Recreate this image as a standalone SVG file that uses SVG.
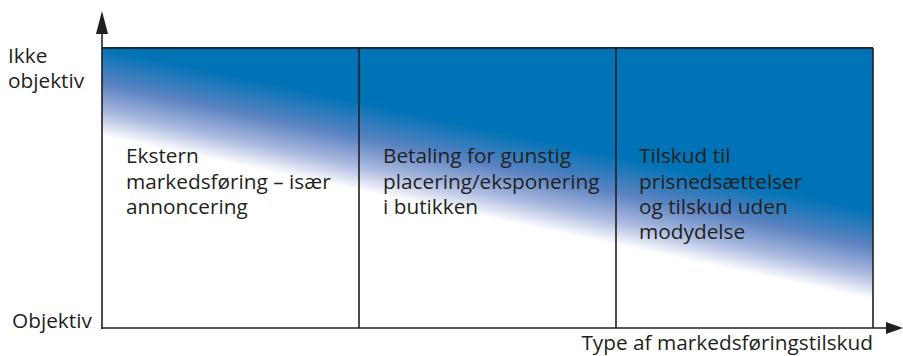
<svg xmlns="http://www.w3.org/2000/svg" width="903" height="356" viewBox="0 0 903 356">
<defs>
<linearGradient id="g" gradientUnits="userSpaceOnUse" x1="487" y1="129" x2="469" y2="214">
<stop offset="0" stop-color="#0073b6"/>
<stop offset="0.4" stop-color="#5a82c0"/>
<stop offset="0.72" stop-color="#a9b8de"/>
<stop offset="1" stop-color="#ffffff"/>
</linearGradient>
<style>
text{font-family:"Open Sans","Noto Sans","Liberation Sans",sans-serif;font-size:20.8px;fill:#231f20}
.ln{stroke:#231f20;stroke-width:1.6;fill:none}
</style>
</defs>
<rect id="bg" x="102" y="48" width="771" height="280" fill="url(#g)"/>
<g id="connectors">
<line class="ln" x1="102" y1="48" x2="873" y2="48" style="stroke:#1a2c40;stroke-width:2"/>
<line class="ln" x1="873" y1="48" x2="873" y2="328"/>
<line class="ln" x1="359" y1="48" x2="359" y2="328"/>
<line class="ln" x1="616" y1="48" x2="616" y2="328"/>
<line class="ln" x1="102" y1="329" x2="102" y2="30"/>
<polygon points="102,11 96,34 108,34" fill="#231f20"/>
<line class="ln" x1="101" y1="328" x2="888" y2="328"/>
<polygon points="903,328 886,322 886,334" fill="#231f20"/>
</g>
<g id="axis-y">
<text x="8" y="63">Ikke</text>
<text x="8" y="88">objektiv</text>
<text x="12" y="328">Objektiv</text>
</g>
<g id="axis-x">
<text x="873" y="350" text-anchor="end">Type af markedsføringstilskud</text>
</g>
<g id="col1">
<text x="126" y="163">Ekstern</text>
<text x="126" y="188.5">markedsføring – især</text>
<text x="126" y="214">annoncering</text>
</g>
<g id="col2">
<text x="383" y="163">Betaling for gunstig</text>
<text x="383" y="188.5">placering/eksponering</text>
<text x="383" y="214">i butikken</text>
</g>
<g id="col3">
<text x="639" y="163">Tilskud til</text>
<text x="639" y="188.5">prisnedsættelser</text>
<text x="639" y="214">og tilskud uden</text>
<text x="639" y="239">modydelse</text>
</g>
</svg>
